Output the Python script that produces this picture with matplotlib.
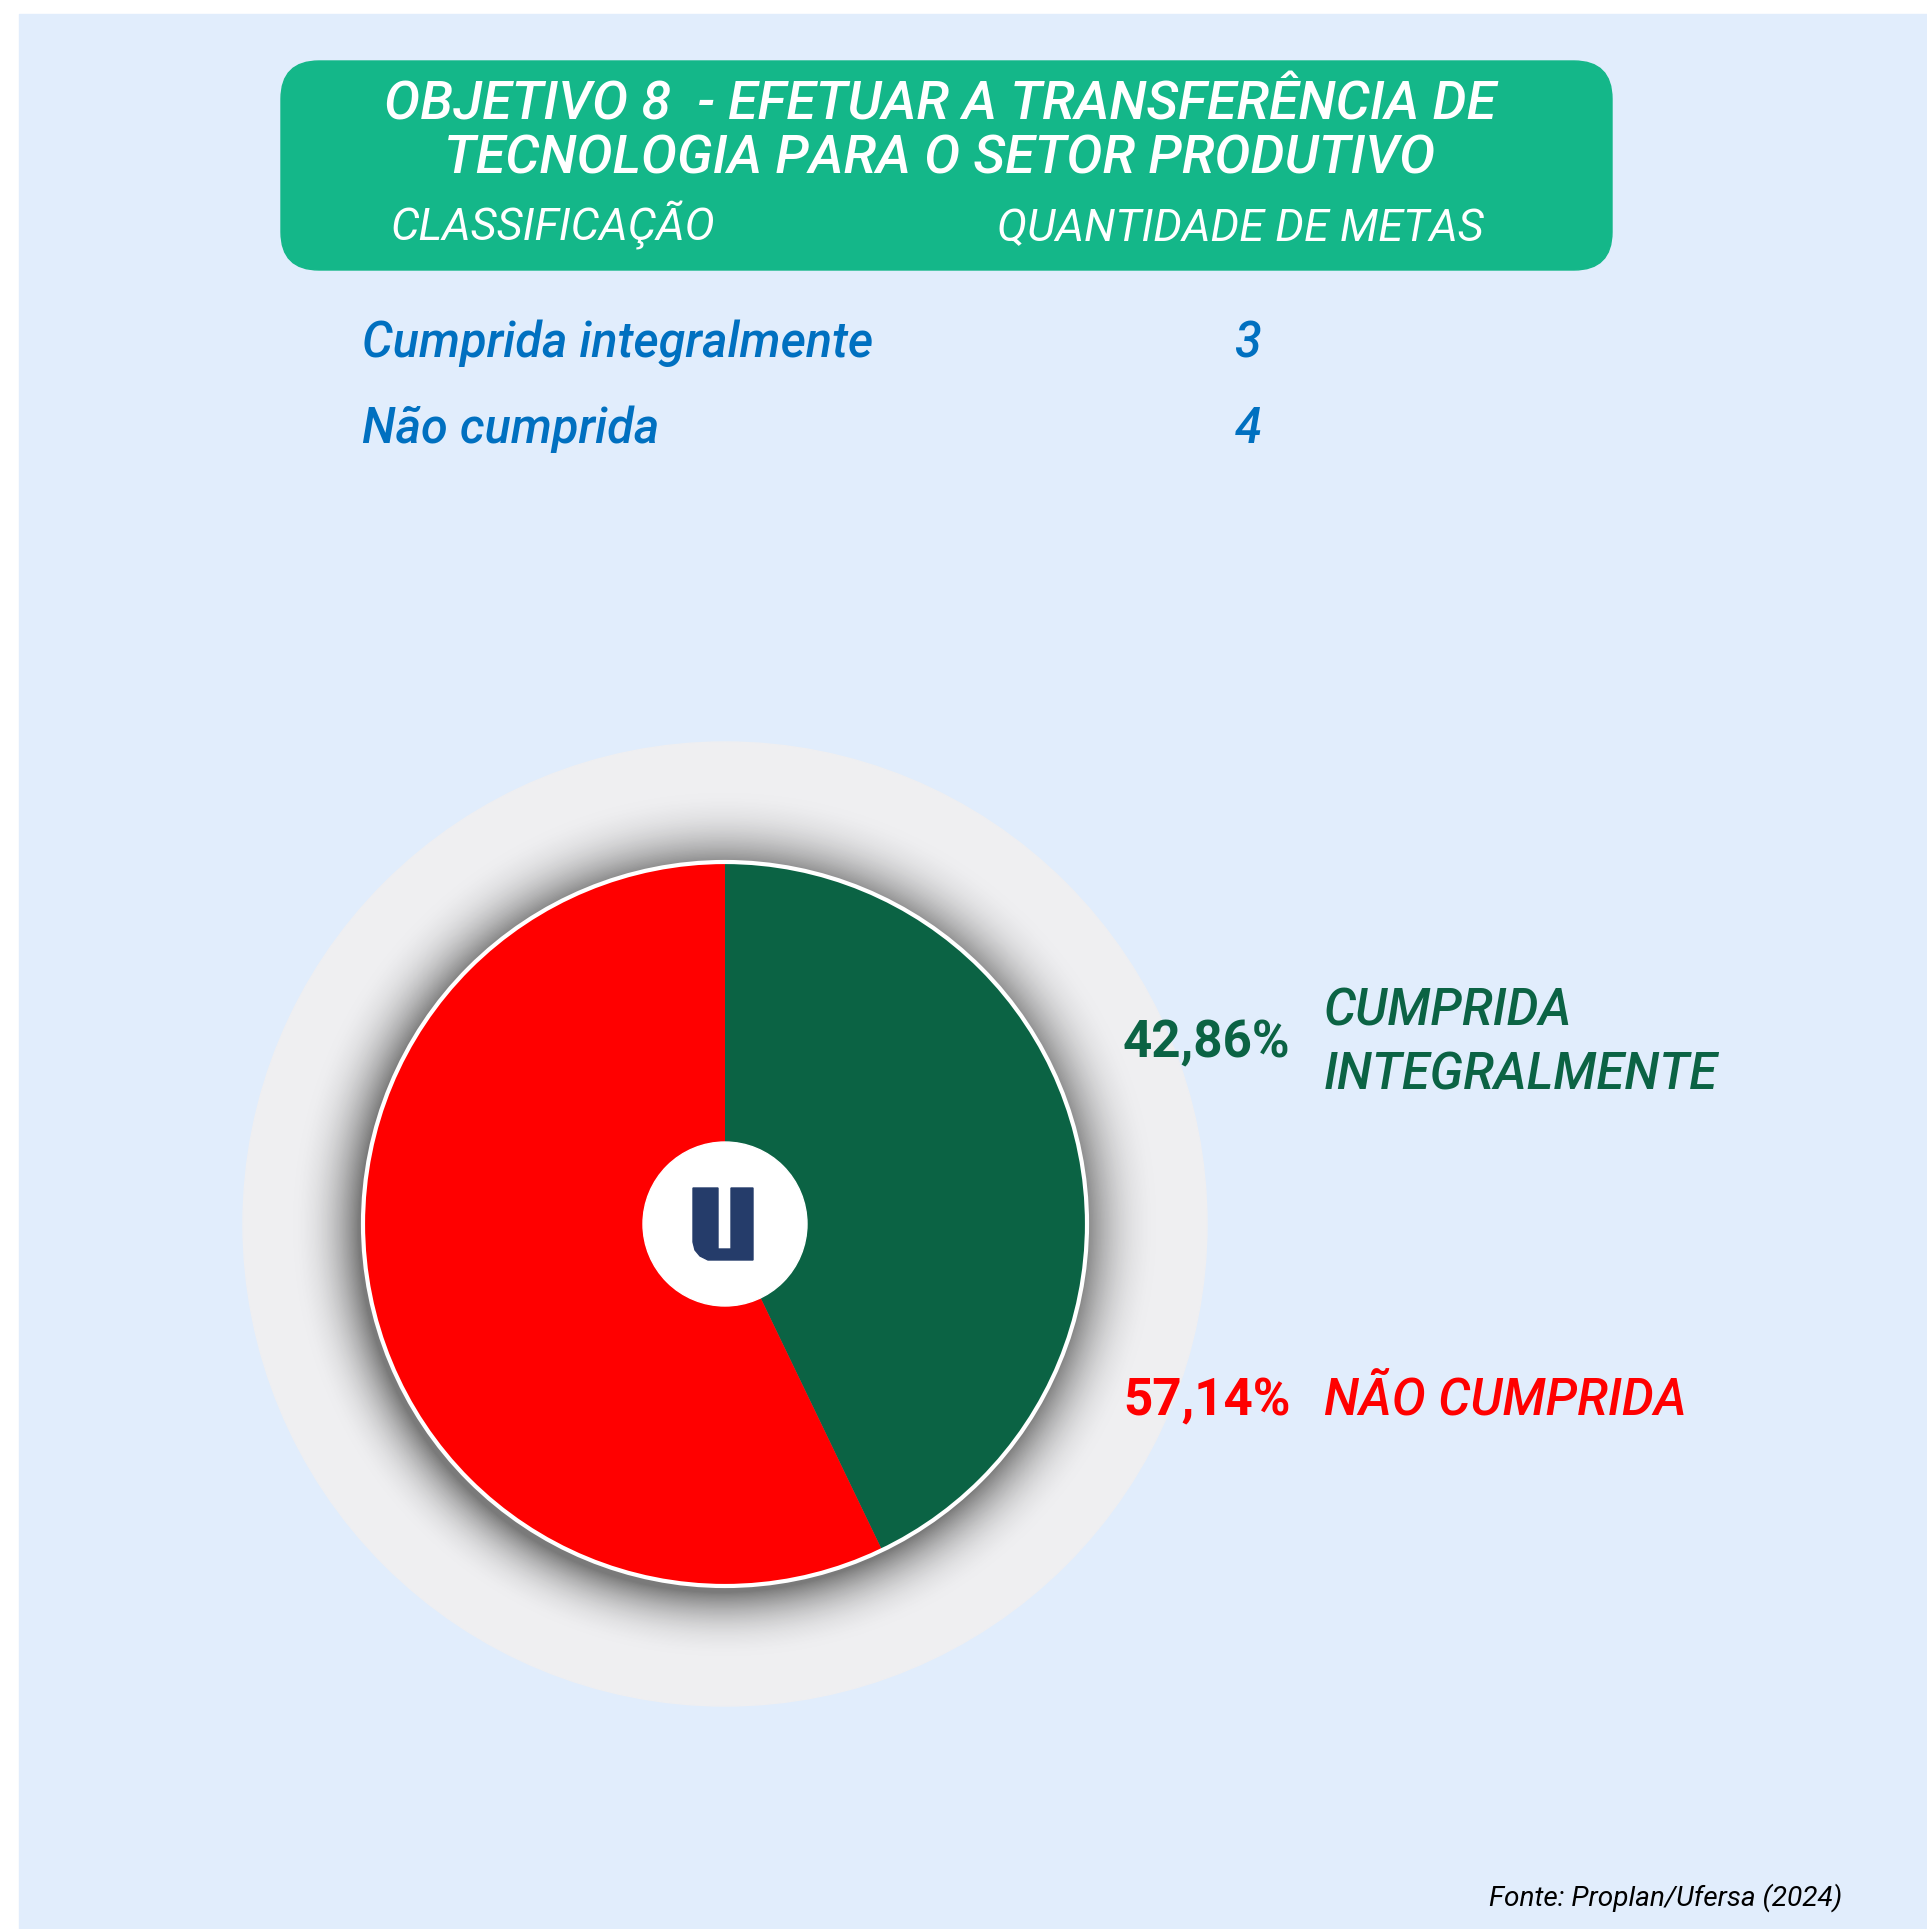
import numpy as np
import matplotlib.pyplot as plt
from matplotlib.patches import Rectangle, FancyBboxPatch, Circle, Polygon
from matplotlib.colors import to_rgb

plt.rcParams['font.family'] = ['Roboto', 'DejaVu Sans']

# data
title_lines = ["OBJETIVO 8  - EFETUAR A TRANSFERÊNCIA DE", "TECNOLOGIA PARA O SETOR PRODUTIVO"]
col_headers = ["CLASSIFICAÇÃO", "QUANTIDADE DE METAS"]
categories = ["Cumprida integralmente", "Não cumprida"]
counts = [3, 4]
pct_labels = ["42,86%", "57,14%"]
pie_names = ["CUMPRIDA\nINTEGRALMENTE", "NÃO CUMPRIDA"]
source = "Fonte: Proplan/Ufersa (2024)"

bg = "#E1EDFC"
header_green = "#14B789"
green = "#0B6344"
red = "#FF0000"
blue = "#0070C0"
ring = "#EFEFF1"
navy = "#253C6A"

W, H = 1927, 1929
fig = plt.figure(figsize=(W / 100, H / 100), dpi=100)
fig.patch.set_facecolor("white")
ax = fig.add_axes([0, 0, 1, 1])


def Y(y):
    return H - y


ax.add_patch(Rectangle((19, 0), W - 19, H - 14, color=bg, zorder=0))

# header box
ax.add_patch(FancyBboxPatch((281 + 38, Y(270) + 38), 1612 - 281 - 76, 270 - 61 - 76,
                            boxstyle="round,pad=38", color=header_green, zorder=1))
ax.text(940, Y(120), title_lines[0], ha="center", va="baseline", fontsize=38.8,
        style="italic", weight="medium", color="white", zorder=2)
ax.text(940, Y(173), title_lines[1], ha="center", va="baseline", fontsize=38.8,
        style="italic", weight="medium", color="white", zorder=2)
ax.text(391, Y(241), col_headers[0], ha="left", va="baseline", fontsize=32.5,
        style="italic", weight="normal", color="white", zorder=2)
ax.text(997, Y(241), col_headers[1], ha="left", va="baseline", fontsize=32.5,
        style="italic", weight="normal", color="white", zorder=2)

# table rows
for cat, n, yb in zip(categories, counts, [357, 443]):
    ax.text(362, Y(yb), cat, ha="left", va="baseline", fontsize=35,
            style="italic", weight="medium", color=blue)
    ax.text(1248, Y(yb), str(n), ha="center", va="baseline", fontsize=35,
            style="italic", weight="medium", color=blue)

# pie background ring with shadow
cx, cy, R = 725, Y(1224), 362
ax.add_patch(Circle((cx, cy), 482, color=ring, zorder=1))
c_ring = np.array(to_rgb(ring))
c_dark = np.array(to_rgb("#7a7a7a"))
N = 60
for i in range(N):
    t = i / (N - 1)
    r = R + 75 * (1 - t)
    mix = t ** 2.2
    col = c_ring * (1 - mix) + c_dark * mix
    ax.add_patch(Circle((cx - 4 * t, cy - 6 * t), r, color=col, zorder=1.5))

wedges, _ = ax.pie(counts, colors=[green, red], startangle=90, counterclock=False,
                   center=(cx, cy), radius=R, frame=True)
for w in wedges:
    w.set_zorder(3)
ax.add_patch(Circle((cx, cy), R, fill=False, edgecolor="white", linewidth=3, zorder=4))
ax.add_patch(Circle((cx, cy), 82, color="white", zorder=5))

# "U" logo
u_shape = [(693, 1188), (718, 1188), (718, 1249), (731, 1249), (731, 1188),
           (753, 1188), (753, 1260), (708, 1260), (700, 1256), (695, 1250),
           (693, 1242)]
ax.add_patch(Polygon([(x, Y(y)) for x, y in u_shape], closed=True, color=navy, zorder=6))

# pie labels
ax.text(1123, Y(1057), pct_labels[0], ha="left", va="baseline", fontsize=36.8,
        weight="bold", color=green)
ax.text(1324, Y(1025), "CUMPRIDA", ha="left", va="baseline", fontsize=36.5,
        style="italic", weight="medium", color=green)
ax.text(1324, Y(1090), "INTEGRALMENTE", ha="left", va="baseline", fontsize=36.5,
        style="italic", weight="medium", color=green)
ax.text(1123, Y(1415), pct_labels[1], ha="left", va="baseline", fontsize=36.8,
        weight="bold", color=red)
ax.text(1324, Y(1415), pie_names[1], ha="left", va="baseline", fontsize=36.5,
        style="italic", weight="medium", color=red)

ax.text(1842, Y(1906), source, ha="right", va="baseline", fontsize=20.2,
        style="italic", color="black")

ax.set_xlim(0, W)
ax.set_ylim(0, H)
ax.set_aspect("equal")
ax.axis("off")

fig.savefig("out.png", dpi=100, facecolor="white")
